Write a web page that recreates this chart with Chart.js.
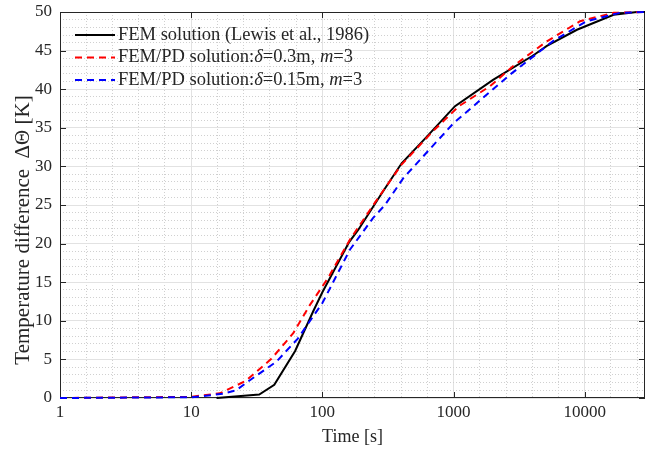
<!DOCTYPE html>
<html>
<head>
<meta charset="utf-8">
<script src="https://cdn.jsdelivr.net/npm/chart.js@4.4.0/dist/chart.umd.min.js"></script>
<style>
  html, body { margin: 0; padding: 0; background: #fff; }
  canvas { display: block; }
</style>
</head>
<body>
<canvas id="myChart" width="645" height="452"></canvas>
<script>
// Valeurs : temps [s] et écart de température [K]
const femTime = [15.6, 33, 43, 62, 85, 100, 160, 188, 283, 402, 606, 1026, 2000, 4065, 5145, 8720, 16600, 25000, 28800];
const femTemp = [0, 0.45, 1.7, 6.1, 11.2, 13.7, 20.2, 21.8, 26.5, 30.4, 33.6, 37.8, 41.2, 44.4, 45.6, 47.7, 49.65, 50, 50];

const pd03Time = [1, 10, 13, 16.5, 26, 41, 60, 80, 110, 162, 266, 400, 700, 1100, 1900, 2850, 5145, 9200, 16600, 28800];
const pd03Temp = [0, 0.15, 0.4, 0.6, 2.2, 5.1, 8.4, 12.0, 15.5, 20.5, 25.9, 30.2, 34.6, 37.8, 40.4, 43.0, 46.2, 48.8, 49.9, 50];

const pd015Time = [1, 10, 13, 17.5, 22, 28, 44.6, 65, 100, 162, 243, 300, 415, 1000, 2700, 5800, 10300, 18600, 28800];
const pd015Temp = [0, 0.1, 0.3, 0.55, 1.0, 2.3, 4.7, 7.7, 12.3, 19.2, 23.3, 25.0, 28.5, 35.6, 41.9, 46.3, 48.8, 49.9, 50];

// Graduations
const xTickLabels = [1, 10, 100, 1000, 10000];
const yTickLabels = [0, 5, 10, 15, 20, 25, 30, 35, 40, 45, 50];
const xMin = 1, xMax = 28800;

const FONT = '"Liberation Serif", "Times New Roman", serif';
const TXT = '#262626';

const toPoints = (xs, ys) => xs.map((x, i) => ({ x: x, y: ys[i] }));

// Légende dessinée dans la zone du graphique (style MATLAB)
const legendItems = [
    { color: '#000000', dash: [], parts: [['FEM solution (Lewis et al., 1986)', false]] },
    { color: '#ff0000', dash: [7, 5], parts: [['FEM/PD solution:', false], ['δ', true], ['=0.3m, ', false], ['m', true], ['=3', false]] },
    { color: '#0000ff', dash: [7, 5], parts: [['FEM/PD solution:', false], ['δ', true], ['=0.15m, ', false], ['m', true], ['=3', false]] }
];

const decorPlugin = {
    id: 'decor',
    beforeDatasetsDraw(chart) {
        const { ctx, chartArea: a, scales } = chart;
        ctx.save();
        ctx.strokeStyle = TXT;
        ctx.lineWidth = 1;
        ctx.setLineDash([]);
        ctx.strokeRect(a.left + 0.5, a.top + 0.5, a.right - a.left - 1, a.bottom - a.top - 1);
        ctx.beginPath();
        xTickLabels.forEach(v => {
            const px = Math.round(scales.x.getPixelForValue(v)) + 0.5;
            ctx.moveTo(px, a.bottom); ctx.lineTo(px, a.bottom - 6);
            ctx.moveTo(px, a.top); ctx.lineTo(px, a.top + 6);
        });
        yTickLabels.forEach(v => {
            const py = Math.round(scales.y.getPixelForValue(v)) + 0.5;
            ctx.moveTo(a.left, py); ctx.lineTo(a.left + 6, py);
            ctx.moveTo(a.right, py); ctx.lineTo(a.right - 6, py);
        });
        ctx.stroke();
        ctx.restore();
    },
    afterDraw(chart) {
        const { ctx, chartArea: a } = chart;
        ctx.save();
        // légende
        const x0 = a.left + 15, x1 = a.left + 55, tx = a.left + 58;
        legendItems.forEach((item, i) => {
            const y = a.top + 23 + i * 22.5;
            ctx.strokeStyle = item.color;
            ctx.lineWidth = 2;
            ctx.setLineDash(item.dash);
            ctx.beginPath();
            ctx.moveTo(x0, y); ctx.lineTo(x1, y);
            ctx.stroke();
            ctx.setLineDash([]);
            ctx.fillStyle = TXT;
            ctx.textBaseline = 'middle';
            let x = tx;
            item.parts.forEach(([s, it]) => {
                ctx.font = (it ? 'italic ' : '') + '18.5px ' + FONT;
                ctx.fillText(s, x, y);
                x += ctx.measureText(s).width;
            });
        });
        // titre de l'axe y
        ctx.translate(23, 230);
        ctx.rotate(-Math.PI / 2);
        ctx.font = '21px ' + FONT;
        ctx.textAlign = 'center';
        ctx.textBaseline = 'middle';
        ctx.fillStyle = TXT;
        ctx.fillText('Temperature difference  ΔΘ [K]', 0, 0);
        ctx.restore();
    }
};

const gridColor = c => (c.tick && c.tick.major) ? '#e2e2e2' : '#d0d0d0';
const gridDash = c => (c.tick && c.tick.major) ? [] : [1, 2];

const ctx = document.getElementById('myChart').getContext('2d');
const myChart = new Chart(ctx, {
    type: 'line',
    data: {
        datasets: [
            { label: 'FEM solution (Lewis et al., 1986)', data: toPoints(femTime, femTemp), borderColor: '#000000', borderWidth: 2, order: 2 },
            { label: 'FEM/PD 0.3', data: toPoints(pd03Time, pd03Temp), borderColor: '#ff0000', borderWidth: 2, borderDash: [7, 5], order: 1 },
            { label: 'FEM/PD 0.15', data: toPoints(pd015Time, pd015Temp), borderColor: '#0000ff', borderWidth: 2, borderDash: [7, 5], order: 0 }
        ]
    },
    options: {
        responsive: false,
        animation: false,
        events: [],
        clip: false,
        layout: { padding: { top: 12, right: 0, left: 0, bottom: 0 } },
        elements: { point: { radius: 0 }, line: { tension: 0, fill: false } },
        plugins: { legend: { display: false }, tooltip: { enabled: false } },
        scales: {
            x: {
                type: 'logarithmic',
                min: xMin,
                max: xMax,
                afterBuildTicks: scale => {
                    const ticks = [];
                    xTickLabels.forEach(d => {
                        for (let j = 0; j < 5; j++) {
                            const v = d * Math.pow(10, j / 5);
                            if (v <= xMax) ticks.push({ value: v, major: j === 0 });
                        }
                    });
                    scale.ticks = ticks;
                },
                afterFit: scale => { scale.height = 54; scale.paddingLeft = 0; scale.paddingRight = 0; },
                grid: { color: gridColor, lineWidth: 1, drawTicks: false },
                border: { display: false, dash: gridDash },
                ticks: {
                    autoSkip: false, maxRotation: 0, padding: 4, color: TXT,
                    font: { family: FONT, size: 17 },
                    callback: (v, i, ticks) => ticks[i].major ? String(Math.round(v)) : ''
                },
                title: { display: true, text: 'Time [s]', color: TXT, font: { family: FONT, size: 18 }, padding: { top: 0, bottom: 4 } }
            },
            y: {
                min: 0,
                max: 50,
                afterBuildTicks: scale => {
                    const ticks = [];
                    for (let v = 0; v <= 50; v++) ticks.push({ value: v, major: yTickLabels.includes(v) });
                    scale.ticks = ticks;
                },
                afterFit: scale => { scale.width = 60; scale.paddingTop = 0; scale.paddingBottom = 0; },
                grid: { color: gridColor, lineWidth: 1, drawTicks: false },
                border: { display: false, dash: gridDash },
                ticks: {
                    autoSkip: false, padding: 8, color: TXT,
                    font: { family: FONT, size: 17 },
                    callback: (v, i, ticks) => ticks[i].major ? String(v) : ''
                }
            }
        }
    },
    plugins: [decorPlugin]
});
</script>
</body>
</html>
